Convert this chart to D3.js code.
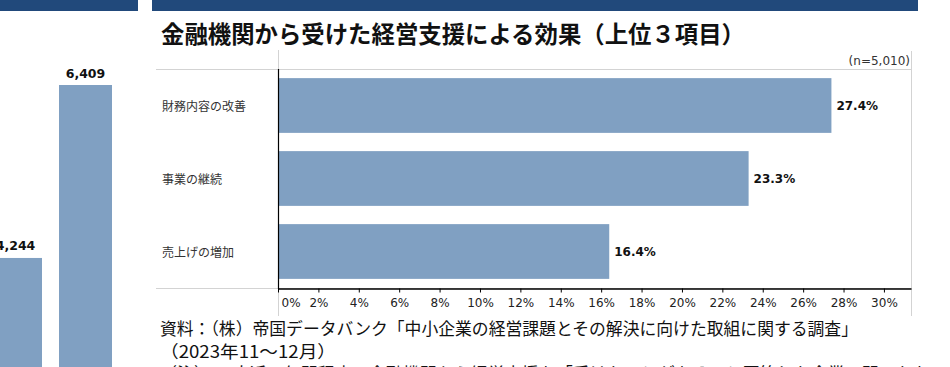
<!DOCTYPE html>
<html>
<head>
<meta charset="utf-8">
<script src="https://cdn.jsdelivr.net/npm/d3@7"></script>
<style>
  html, body { margin: 0; padding: 0; background: #fff; overflow: hidden; }
  svg { display: block; }
</style>
</head>
<body>
<svg id="chart" width="950" height="367"></svg>
<script>
// main chart data
const categories = [ "財務内容の改善", "事業の継続", "売上げの増加" ];
const shares = [ 27.4, 23.3, 16.4 ];                 // percent
const tickValues = [ 0, 2, 4, 6, 8, 10, 12, 14, 16, 18, 20, 22, 24, 26, 28, 30 ];
const sampleNote = "(n=5,010)";
const title = "金融機関から受けた経営支援による効果（上位３項目）";
const sourceLines = [
    "資料：（株）帝国データバンク「中小企業の経営課題とその解決に向けた取組に関する調査」",
    "（2023年11～12月）",
    "（注）１.直近２年間程度で金融機関から経営支援を「受けたことがある」と回答した企業に聞いたもの"
];

// cropped neighbour chart on the left edge
const leftKeys = [ "k1", "k2" ];
const leftValues = [ 4244, 6409 ];

window.addEventListener( "load", draw );
function draw() {
    var svg = d3.select( "#chart" );
    var barColor = "#80A0C2", navy = "#21497B", frame = "#D3D3D3";
    var latin = "'DejaVu Sans', Verdana, sans-serif";
    var jp = "'Noto Sans CJK JP', sans-serif";

    // header bands
    svg.append( "rect" ).attr( "x", 0 ).attr( "y", 0 )
        .attr( "width", 138 ).attr( "height", 11 ).attr( "fill", navy );
    svg.append( "rect" ).attr( "x", 152 ).attr( "y", 0 )
        .attr( "width", 766 ).attr( "height", 11 ).attr( "fill", navy );

    // left fragment: two bars, baseline below the picture
    var lx = d3.scaleBand().domain( leftKeys ).range( [ -11, 112 ] )
        .paddingInner( 0.243 ).paddingOuter( 0 );
    var ly = d3.scaleLinear().domain( [ 0, 6409 ] ).range( [ 597, 85 ] );
    svg.selectAll( "rect.lbar" ).data( leftValues ).enter().append( "rect" )
        .attr( "class", "lbar" )
        .attr( "x", (d,i) => lx( leftKeys[i] ) ).attr( "y", d => ly(d) )
        .attr( "width", lx.bandwidth() ).attr( "height", d => ly(0) - ly(d) )
        .attr( "fill", barColor );
    svg.selectAll( "text.lval" ).data( leftValues ).enter().append( "text" )
        .attr( "class", "lval" )
        .attr( "x", (d,i) => lx( leftKeys[i] ) + lx.bandwidth()/2 )
        .attr( "y", d => ly(d) - 12 )
        .attr( "text-anchor", "middle" ).attr( "dominant-baseline", "central" )
        .attr( "font-family", latin ).attr( "font-weight", "bold" )
        .attr( "font-size", 12.5 ).attr( "fill", "#111" )
        .text( d => d3.format( "," )(d) );

    // title
    svg.append( "text" ).attr( "x", 161 ).attr( "y", 33 )
        .attr( "dominant-baseline", "central" )
        .attr( "font-family", jp ).attr( "font-weight", "bold" )
        .attr( "font-size", 23.5 ).attr( "fill", "#111" )
        .attr( "textLength", 584 ).attr( "lengthAdjust", "spacingAndGlyphs" )
        .text( title );

    // plot geometry
    var left = 278, right = 911, top = 69, bottom = 288;
    var x = d3.scaleLinear().domain( [ 0, 31.34 ] ).range( [ left, right ] );
    var y = d3.scaleBand().domain( categories ).range( [ top, bottom ] )
        .paddingInner( 0.25 ).paddingOuter( 0.125 );

    // light frame lines
    var g = svg.append( "g" ).attr( "stroke", frame ).attr( "stroke-width", 1 );
    g.append( "line" ).attr( "x1", 156 ).attr( "x2", right ).attr( "y1", top + .5 ).attr( "y2", top + .5 );
    g.append( "line" ).attr( "x1", 156 ).attr( "x2", right ).attr( "y1", bottom + .5 ).attr( "y2", bottom + .5 );
    g.append( "line" ).attr( "x1", left + .5 ).attr( "x2", left + .5 ).attr( "y1", 50 ).attr( "y2", 316 );
    g.append( "line" ).attr( "x1", right + .5 ).attr( "x2", right + .5 ).attr( "y1", 51 ).attr( "y2", 316 );

    // bars
    svg.selectAll( "rect.bar" ).data( shares ).enter().append( "rect" )
        .attr( "class", "bar" )
        .attr( "x", x(0) ).attr( "y", (d,i) => y( categories[i] ) )
        .attr( "width", d => x(d) - x(0) ).attr( "height", y.bandwidth() )
        .attr( "fill", barColor );

    // value labels
    svg.selectAll( "text.val" ).data( shares ).enter().append( "text" )
        .attr( "class", "val" )
        .attr( "x", d => x(d) + 5 )
        .attr( "y", (d,i) => y( categories[i] ) + y.bandwidth()/2 )
        .attr( "dominant-baseline", "central" )
        .attr( "font-family", latin ).attr( "font-weight", "bold" )
        .attr( "font-size", 12 ).attr( "fill", "#111" )
        .text( d => d.toFixed(1) + "%" );

    // category labels
    svg.selectAll( "text.cat" ).data( categories ).enter().append( "text" )
        .attr( "class", "cat" )
        .attr( "x", 162 ).attr( "y", d => y(d) + y.bandwidth()/2 )
        .attr( "dominant-baseline", "central" )
        .attr( "font-family", jp ).attr( "font-size", 12 ).attr( "fill", "#333" )
        .text( d => d );

    // axes lines
    svg.append( "line" ).attr( "x1", left + .5 ).attr( "x2", left + .5 )
        .attr( "y1", top ).attr( "y2", bottom + 1 )
        .attr( "stroke", "#000" ).attr( "stroke-width", 1.2 );

    var ax = svg.append( "g" ).attr( "transform", "translate(0," + (bottom + .5) + ")" )
        .call( d3.axisBottom( x ).tickValues( tickValues ).tickSize( 4 ).tickSizeOuter( 0 )
               .tickFormat( d => d + "%" ) );
    ax.select( ".domain" ).attr( "stroke", "#000" ).attr( "stroke-width", 1.5 );
    ax.selectAll( ".tick line" ).attr( "stroke", "#000" );
    ax.selectAll( ".tick text" )
        .attr( "font-family", latin ).attr( "font-size", 12 ).attr( "fill", "#222" )
        .attr( "y", 15 ).attr( "dy", "0.32em" );
    ax.selectAll( ".tick" ).filter( d => d === 0 ).select( "text" )
        .attr( "text-anchor", "start" ).attr( "x", 3 );

    // sample size note
    svg.append( "text" ).attr( "x", 910 ).attr( "y", 61 )
        .attr( "text-anchor", "end" ).attr( "dominant-baseline", "central" )
        .attr( "font-family", latin ).attr( "font-size", 12 ).attr( "fill", "#333" )
        .text( sampleNote );

    // source notes (third line runs off the bottom, as in the original crop)
    var widths = [ 698, 176, null ];
    var ys = [ 327, 350, 372 ];
    sourceLines.forEach( function( s, i ) {
        var t = svg.append( "text" ).attr( "x", 160 ).attr( "y", ys[i] )
            .attr( "dominant-baseline", "central" )
            .attr( "font-family", jp ).attr( "font-size", 17 ).attr( "fill", "#111" )
            .text( s );
        if ( widths[i] )
            t.attr( "textLength", widths[i] ).attr( "lengthAdjust", "spacingAndGlyphs" );
    } );
}
</script>
</body>
</html>
